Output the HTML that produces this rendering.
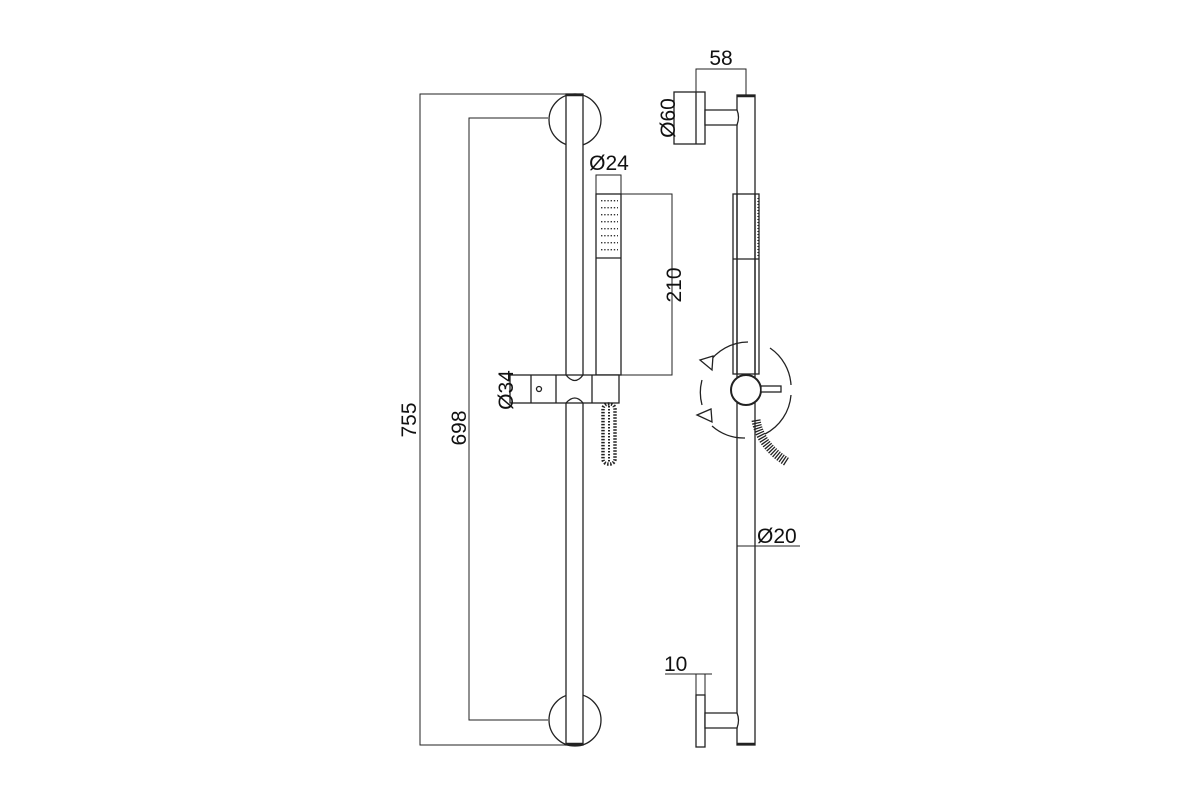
<!DOCTYPE html>
<html><head><meta charset="utf-8"><style>html,body{margin:0;padding:0;background:#fff}svg{display:block}</style></head>
<body>
<svg width="1200" height="800" viewBox="0 0 1200 800" xmlns="http://www.w3.org/2000/svg" font-family="Liberation Sans, sans-serif">
<defs>
<pattern id="dots" x="601" y="200" width="3.2" height="7" patternUnits="userSpaceOnUse"><rect x="0" y="0" width="1.4" height="1.4" fill="#333"/></pattern>
</defs>
<rect width="1200" height="800" fill="#fff"/>
<g fill="none" stroke="#222" stroke-width="1.3">
<!-- left view -->
<circle cx="575" cy="120" r="26" fill="#fff"/>
<circle cx="575" cy="720" r="26" fill="#fff"/>
<rect x="566" y="94" width="17" height="651" fill="#fff"/>
<line x1="566" y1="95" x2="583" y2="95" stroke-width="2.5"/>
<line x1="566" y1="744" x2="583" y2="744" stroke-width="2.5"/>
<polyline points="566,94 420,94 420,745 566,745" stroke-width="1"/>
<polyline points="548,118 469,118 469,720 548,720" stroke-width="1"/>
<!-- hand shower -->
<rect x="596" y="194" width="25" height="181" fill="#fff"/>
<line x1="596" y1="258" x2="621" y2="258"/>
<rect x="600" y="200" width="18" height="54" fill="url(#dots)" stroke="none"/>
<polyline points="596,194 596,175 621,175 621,194" stroke-width="1"/>
<polyline points="621,194 672,194 672,375 621,375" stroke-width="1"/>
<!-- bracket -->
<rect x="510" y="375" width="109" height="28" fill="#fff"/>
<line x1="531" y1="375" x2="531" y2="403"/>
<line x1="556" y1="375" x2="556" y2="403"/>
<line x1="592" y1="375" x2="592" y2="403"/>
<path d="M566,375 Q575,386 583,375 M566,403 Q575,393 583,403"/>
<circle cx="539" cy="389" r="2.5"/>
<!-- hose -->
<rect x="603" y="404" width="12" height="60" rx="5" stroke-dasharray="1.5 1.5" stroke-width="3.5"/>
<line x1="609" y1="406" x2="609" y2="462" stroke-width="2" stroke-dasharray="1.5 1.5"/>
<!-- right view -->
<rect x="737" y="95" width="18" height="650" fill="#fff"/>
<line x1="737" y1="96" x2="755" y2="96" stroke-width="2.5"/>
<line x1="737" y1="744" x2="755" y2="744" stroke-width="2.5"/>
<rect x="674" y="92" width="31" height="52" fill="#fff"/>
<line x1="696" y1="92" x2="696" y2="144"/>
<path d="M705,110 H737 Q740,117 737,125 H705 Z" fill="#fff"/>
<polyline points="696,92 696,69 746,69 746,95" stroke-width="1"/>
<rect x="733" y="194" width="26" height="180"/>
<line x1="733" y1="259" x2="759" y2="259"/>
<line x1="737" y1="194" x2="737" y2="374"/>
<line x1="755" y1="194" x2="755" y2="374"/>
<line x1="758" y1="198" x2="758" y2="256" stroke-dasharray="1 2"/>
<!-- knob -->
<circle cx="746" cy="390" r="15" fill="#fff" stroke-width="2"/>
<rect x="761" y="386" width="20" height="6" fill="#fff"/>
<path d="M748,342 A48,48 0 0 0 708,364 M702,380 A48,48 0 0 0 702,405 M712,426 A48,48 0 0 0 745,438" />
<path d="M770,348 A48,48 0 0 1 791,385 M791,395 A48,48 0 0 1 765,434"/>
<polygon points="700,360 713,356 712,370" fill="#fff"/>
<polygon points="697,415 711,409 712,422" fill="#fff"/>
<path d="M756,420 Q760,445 787,462" stroke-width="9" stroke-dasharray="1.3 1.3"/>
<!-- dim 20 -->
<line x1="737" y1="546" x2="800" y2="546" stroke-width="1"/>
<!-- bottom flange -->
<rect x="696" y="695" width="9" height="52" fill="#fff"/>
<path d="M705,713 H737 Q740,720 737,728 H705 Z" fill="#fff"/>
<polyline points="665,674 712,674" stroke-width="1"/>
<line x1="696" y1="674" x2="696" y2="695" stroke-width="1"/>
<line x1="705" y1="674" x2="705" y2="695" stroke-width="1"/>
</g>
<g fill="#111" font-size="21">
<text transform="translate(416,420) rotate(-90)" text-anchor="middle">755</text>
<text transform="translate(466,428) rotate(-90)" text-anchor="middle">698</text>
<text transform="translate(681,285) rotate(-90)" text-anchor="middle">210</text>
<text transform="translate(513,390) rotate(-90)" text-anchor="middle">Ø34</text>
<text transform="translate(675,118) rotate(-90)" text-anchor="middle">Ø60</text>
<text x="609" y="170" text-anchor="middle">Ø24</text>
<text x="721" y="65" text-anchor="middle">58</text>
<text x="757" y="543">Ø20</text>
<text x="664" y="671">10</text>
</g>
</svg>
</body></html>
